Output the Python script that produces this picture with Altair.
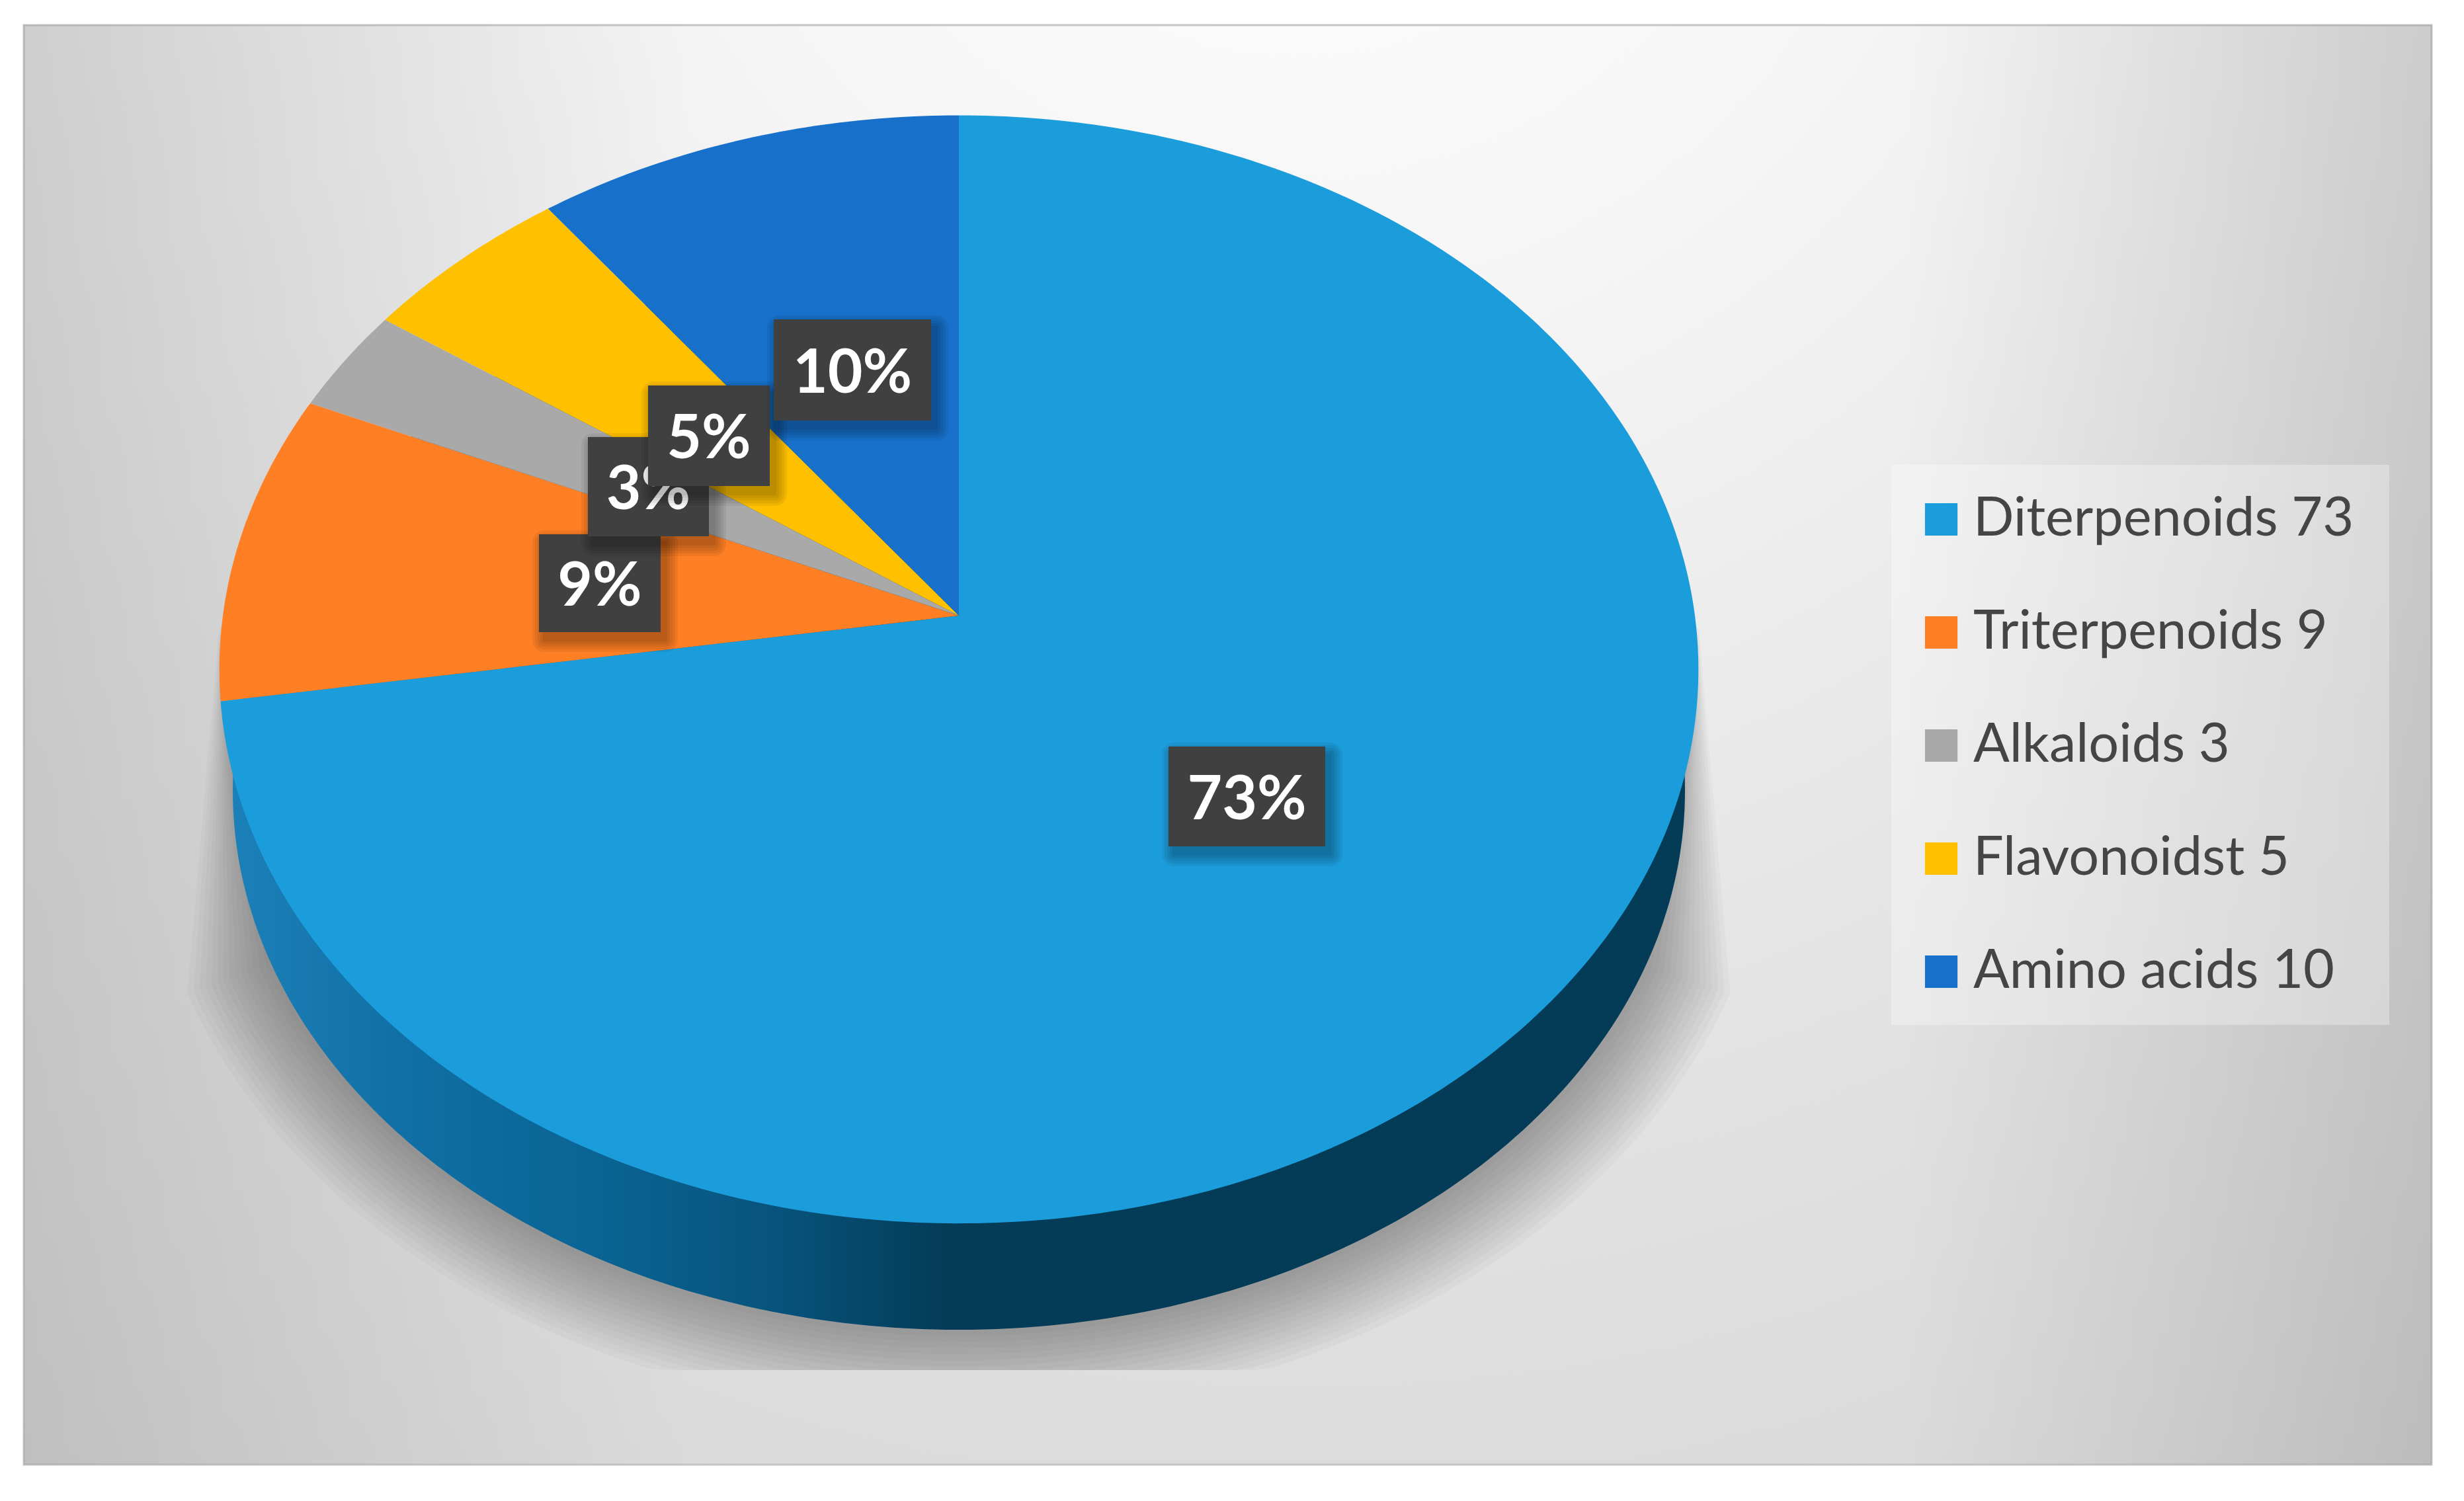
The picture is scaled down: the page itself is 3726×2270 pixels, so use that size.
import math
import altair as alt

# ---- data ----
categories = ["Diterpenoids", "Triterpenoids", "Alkaloids", "Flavonoidst", "Amino acids"]
values = [73, 9, 3, 5, 10]
colors = ["#1C9DDB", "#FE7F24", "#A9A9A9", "#FFC000", "#1771CB"]
# percentage label boxes: left, right, top, bottom (drawn in this order)
label_order = [0, 1, 2, 3, 4]
box_left = [1767, 815, 889, 980, 1170]
box_right = [2004, 999, 1072, 1164, 1408]
box_top = [1129, 808, 661, 583, 483]
box_bottom = [1280, 956, 811, 735, 636]

# ---- layout ----
OX, OY = 8, 8
CX, CY = 1450, 931          # apex of the pie
RX, RY, K = 1113, 830, 0.097  # perspective of the top face
TWIST = 0.029               # slight angular distortion of the 3-D view
WALL = (1450, 1196, 1098, 815)  # lower rim ellipse
PANEL = (36, 38, 3677, 2215)
LEGEND_BOX = (2860, 703, 3613, 1550)
SHADOW_FLOOR = 2072
N = 120
PROJ = dict(type="identity", scale=1, translate=[0, 0])


def rim(theta):
    theta = theta + TWIST * math.sin(theta)
    u, v = math.sin(theta), math.cos(theta)
    w = 1 + K * v
    return [CX + RX * u / w - OX, CY - RY * v / w - OY]


names = [f"{c} {v}" for c, v in zip(categories, values)]
total = sum(values)
features = []
acc = 0
for name, v in zip(names, values):
    a0 = acc / total * 2 * math.pi
    acc += v
    a1 = acc / total * 2 * math.pi
    steps = max(3, int(N * v / 25))
    ring = [[CX - OX, CY - OY]] + [rim(a0 + (a1 - a0) * i / steps) for i in range(steps + 1)] + [[CX - OX, CY - OY]]
    features.append({"type": "Feature", "properties": {"name": name},
                     "geometry": {"type": "Polygon", "coordinates": [ring]}})


def collection(feats):
    return alt.Data(values={"type": "FeatureCollection", "features": feats},
                    format=alt.DataFormat(property="features", type="json"))


# wall of the disc
wx, wy, wrx, wry = WALL
wall_ring = [[wx + wrx * math.cos(2 * math.pi * i / 360) - OX, wy + wry * math.sin(2 * math.pi * i / 360) - OY]
             for i in range(361)]
wall = alt.Chart(collection([{"type": "Feature", "properties": {},
                              "geometry": {"type": "Polygon", "coordinates": [wall_ring]}}])).mark_geoshape(
    strokeWidth=0,
    fill=alt.LinearGradient(
        gradient="linear", x1=0, x2=1, y1=0, y2=0,
        stops=[alt.GradientStop(color="#1C80B8", offset=0),
               alt.GradientStop(color="#106FA5", offset=0.12),
               alt.GradientStop(color="#0A6392", offset=0.26),
               alt.GradientStop(color="#07527A", offset=0.38),
               alt.GradientStop(color="#043C58", offset=0.49),
               alt.GradientStop(color="#043C58", offset=1)]),
).project(**PROJ)

# soft drop shadow made of stacked translucent shapes
shadow_feats = []
LAYERS = 14
for n in range(1, LAYERS + 1):
    t = n / LAYERS
    rx, ry = wrx + 135 * t, wry + 130 * t
    phi0 = 0.33
    ring = [[CX - 1119 + 10 * (1 - t) - OX, 950 + 130 * (1 - t) - OY]]
    pts = []
    for i in range(121):
        phi = math.pi - phi0 - (math.pi - 2 * phi0) * i / 120
        pts.append([wx + rx * math.cos(phi) - OX, min(wy + ry * math.sin(phi), SHADOW_FLOOR) - OY])
    ring += pts + [[CX + 1119 - 10 * (1 - t) - OX, 950 + 130 * (1 - t) - OY]]
    ring.append(ring[0])
    shadow_feats.append({"type": "Feature", "properties": {"n": n},
                         "geometry": {"type": "Polygon", "coordinates": [ring]}})
shadow = alt.Chart(collection(shadow_feats)).mark_geoshape(
    strokeWidth=0, fill="#000000", fillOpacity=0.022).project(**PROJ)

pie = alt.Chart(collection(features)).mark_geoshape(strokeWidth=0).encode(
    color=alt.Color("properties.name:N", sort=None,
                    scale=alt.Scale(domain=names, range=colors),
                    legend=alt.Legend(title=None, orient="none",
                                      legendX=2895 - OX, legendY=745 - OY,
                                      symbolType="square", symbolSize=2420,
                                      symbolStrokeWidth=0, symbolOpacity=1,
                                      labelFont="Lato", labelFontSize=81,
                                      labelColor="#454545", labelOffset=8,
                                      labelLimit=800, rowPadding=89, padding=0))
).project(**PROJ)


def rect(x0, y0, x1, y1, **kw):
    return alt.Chart(alt.Data(values=[{"a": x0 - OX, "b": x1 - OX, "c": y0 - OY, "d": y1 - OY}])).mark_rect(**kw).encode(
        x=alt.X("a:Q", scale=None, axis=None), x2="b:Q",
        y=alt.Y("c:Q", scale=None, axis=None), y2="d:Q")


px0, py0, px1, py1 = PANEL
background = rect(px0, py0, px1, py1, stroke="#C4C4C4", strokeWidth=3, fill=alt.RadialGradient(
    gradient="radial", x1=0.53, y1=0.06, r1=0, x2=0.53, y2=0.06, r2=1.25,
    stops=[alt.GradientStop(color="#FFFFFF", offset=0),
           alt.GradientStop(color="#F6F6F6", offset=0.2),
           alt.GradientStop(color="#E1E1E1", offset=0.5),
           alt.GradientStop(color="#D2D2D2", offset=0.78),
           alt.GradientStop(color="#C6C6C6", offset=1)]))
vignette = rect(px0, py0, px1, py1, fill=alt.LinearGradient(
    gradient="linear", x1=0, x2=1, y1=0, y2=0,
    stops=[alt.GradientStop(color="rgba(0,0,0,0.10)", offset=0),
           alt.GradientStop(color="rgba(0,0,0,0.0)", offset=0.28),
           alt.GradientStop(color="rgba(0,0,0,0.0)", offset=0.78),
           alt.GradientStop(color="rgba(0,0,0,0.12)", offset=1)]))

lx0, ly0, lx1, ly1 = LEGEND_BOX
legend_box = rect(lx0, ly0, lx1, ly1, fill="#FFFFFF", fillOpacity=0.3)

layers = [background, vignette, shadow, wall, pie, legend_box]

for i in label_order:
    l, r, t, b = box_left[i], box_right[i], box_top[i], box_bottom[i]
    for g in (18, 14, 10, 6, 2):
        layers.append(rect(l + 8 - g, t + 12 - g, r + 8 + g, b + 12 + g, fill="#000000", fillOpacity=0.06, cornerRadius=g))
    layers.append(rect(l, t, r, b, fill="#404040"))
    layers.append(alt.Chart(alt.Data(values=[{"x": (l + r) / 2 - OX, "y": (t + b) / 2 - OY + 7, "t": f"{values[i]}%"}]))
                  .mark_text(font="Lato", fontWeight="bold", fontSize=91, color="#FFFFFF", align="center", baseline="middle")
                  .encode(x=alt.X("x:Q", scale=None, axis=None), y=alt.Y("y:Q", scale=None, axis=None), text="t:N"))

chart = alt.layer(*layers).properties(
    width=3710, height=2254, padding=0, background="#FFFFFF",
    autosize=alt.AutoSizeParams(type="none"),
).configure_view(stroke=None)

chart.save("out.html", embed_options={"renderer": "svg", "actions": False})
